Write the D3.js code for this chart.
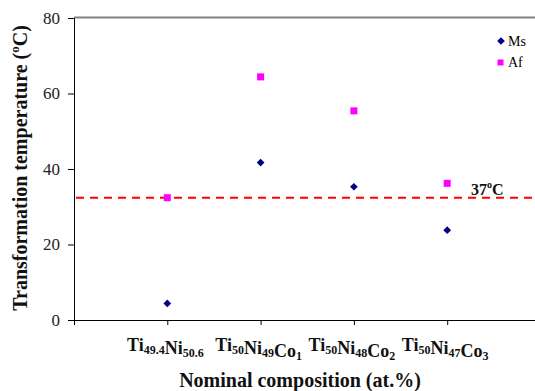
<!DOCTYPE html>
<meta charset="utf-8">
<style>
body { margin: 0; background: #fff; }
svg text { font-family: "Liberation Serif", "Times New Roman", serif; }
</style>
<body>
<svg width="535" height="391"></svg>
<script src="https://d3js.org/d3.v7.min.js"></script>
<script>

// composition labels as [main, subscript] pieces
var categories = [
  [["Ti", "49.4"], ["Ni", "50.6"]],
  [["Ti", "50"], ["Ni", "49"], ["Co", "1"]],
  [["Ti", "50"], ["Ni", "48"], ["Co", "2"]],
  [["Ti", "50"], ["Ni", "47"], ["Co", "3"]]
];
var ms = [4.4, 41.7, 35.3, 23.8];
var af = [32.4, 64.4, 55.4, 36.2];
var refLine = 32.4;
var yTicks = [0, 20, 40, 60, 80];

var svg = d3.select("svg"),
    plotLeft = 74, plotTop = 18, plotBottom = 320;

var x = d3.scaleLinear().domain([0, 5]).range([plotLeft, 540.5]);
var y = d3.scaleLinear().domain([0, 80]).range([plotBottom, plotTop]);

// top border
svg.append("line")
    .attr("x1", plotLeft).attr("x2", 535)
    .attr("y1", plotTop - 0.5).attr("y2", plotTop - 0.5)
    .attr("stroke", "#808080").attr("stroke-width", 2);

var yAxis = svg.append("g")
    .attr("transform", "translate(" + plotLeft + ",0)")
    .call(d3.axisLeft(y).tickValues(yTicks).tickSize(6).tickPadding(8));
yAxis.select(".domain").attr("stroke", "#000");
yAxis.selectAll(".tick text")
    .style("font-family", "'Liberation Serif', serif")
    .style("font-size", "17px")
    .attr("fill", "#222");

var xAxis = svg.append("g")
    .attr("transform", "translate(0," + plotBottom + ")")
    .call(d3.axisBottom(x).tickValues([0, 1, 2, 3, 4]).tickSize(5).tickFormat(""));
xAxis.select(".domain").attr("stroke", "#000");

// category labels with subscripts
categories.forEach(function(parts, i) {
  var t = svg.append("text")
      .attr("x", x(i + 1) - 2)
      .attr("y", 351)
      .attr("text-anchor", "middle")
      .attr("font-weight", "bold")
      .attr("font-size", 18)
      .attr("fill", "#111");
  parts.forEach(function(p) {
    t.append("tspan").attr("dy", 0).text(p[0]);
    t.append("tspan").attr("font-size", 12).attr("dy", 3).text(p[1]);
    t.append("tspan").attr("dy", -3).text("");
  });
});

// reference line
svg.append("line")
    .attr("x1", plotLeft + 2).attr("x2", 535)
    .attr("y1", y(refLine)).attr("y2", y(refLine))
    .attr("stroke", "#ff0000").attr("stroke-width", 2)
    .attr("stroke-dasharray", "8,6");

var rl = svg.append("text")
    .attr("x", 471).attr("y", y(refLine) - 3)
    .attr("font-weight", "bold").attr("font-size", 16).attr("fill", "#111");
rl.append("tspan").text("37");
rl.append("tspan").attr("font-size", 10).attr("dy", -7).text("o");
rl.append("tspan").attr("dy", 7).text("C");

var diamond = d3.symbol().type(d3.symbolDiamond2).size(38);

svg.selectAll(".ms")
  .data(ms)
  .enter().append("path")
    .attr("class", "ms")
    .attr("d", diamond)
    .attr("transform", function(d, i) { return "translate(" + x(i + 1) + "," + y(d) + ")"; })
    .attr("fill", "#000080");

svg.selectAll(".af")
  .data(af)
  .enter().append("rect")
    .attr("class", "af")
    .attr("x", function(d, i) { return x(i + 1) - 3.5; })
    .attr("y", function(d) { return y(d) - 3.5; })
    .attr("width", 7).attr("height", 7)
    .attr("fill", "#ff00ff");

// legend
svg.append("path").attr("d", diamond)
    .attr("transform", "translate(501,41)").attr("fill", "#000080");
svg.append("text").attr("x", 508).attr("y", 46).attr("font-size", 14).text("Ms");
svg.append("rect").attr("x", 497.5).attr("y", 59.5).attr("width", 6).attr("height", 6)
    .attr("fill", "#ff00ff");
svg.append("text").attr("x", 508).attr("y", 67).attr("font-size", 14).text("Af");

// axis titles
svg.append("text")
    .attr("x", 300).attr("y", 387)
    .attr("text-anchor", "middle")
    .attr("font-weight", "bold").attr("font-size", 20).attr("fill", "#111")
    .text("Nominal composition (at.%)");

var yt = svg.append("text")
    .attr("transform", "translate(27,168) rotate(-90)")
    .attr("text-anchor", "middle")
    .attr("font-weight", "bold").attr("font-size", 20).attr("fill", "#111");
yt.append("tspan").text("Transformation temperature (");
yt.append("tspan").attr("font-size", 13).attr("dy", -8).text("o");
yt.append("tspan").attr("dy", 8).text("C)");

</script>
</body>
